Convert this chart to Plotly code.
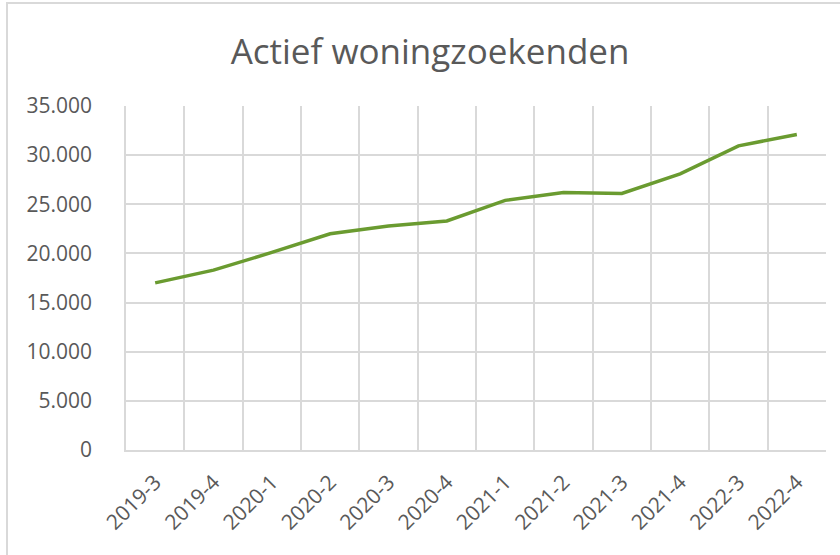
import plotly.graph_objects as go

categories = ["2019-3", "2019-4", "2020-1", "2020-2", "2020-3", "2020-4",
              "2021-1", "2021-2", "2021-3", "2021-4", "2022-3", "2022-4"]
values = [17000, 18300, 20100, 22000, 22800, 23300,
          25400, 26200, 26100, 28100, 30950, 32100]
y_ticks = [0, 5000, 10000, 15000, 20000, 25000, 30000, 35000]

fig = go.Figure()
fig.add_trace(go.Scatter(
    x=categories, y=values, mode="lines",
    line=dict(color="#6a9b30", width=3.5),
    hoverinfo="x+y",
))

grid = "#d9d9d9"
font = "Open Sans, Noto Sans, sans-serif"

fig.update_layout(
    width=840, height=555,
    margin=dict(l=126, r=14, t=106, b=105),
    paper_bgcolor="white", plot_bgcolor="white",
    separators=",.",
    showlegend=False,
    title=dict(text="Actief woningzoekenden", x=0.512, xanchor="center",
               y=1 - 52 / 555, yanchor="middle",
               font=dict(family=font, size=35, color="#595959")),
    xaxis=dict(
        type="category", range=[-0.5, 11.5], tickson="boundaries",
        showgrid=True, gridcolor=grid, gridwidth=1.5,
        showline=True, linecolor=grid, linewidth=1.5,
        ticks="", tickangle=-45, ticklabelstandoff=10,
        tickfont=dict(family=font, size=21, color="#595959"),
    ),
    yaxis=dict(
        range=[0, 35000], tickvals=y_ticks, tickformat=",d",
        showgrid=True, gridcolor=grid, gridwidth=1.5,
        zeroline=False, showline=True, linecolor=grid, linewidth=1.5,
        ticks="", ticklabelstandoff=28,
        tickfont=dict(family=font, size=21, color="#595959"),
    ),
    shapes=[dict(type="rect", xref="paper", yref="paper",
                 x0=(7 - 126) / 700, x1=1.2, y0=-0.5, y1=(450 - 3) / 344,
                 line=dict(color=grid, width=2), layer="below")],
)

fig.write_html("out.html", config={"displayModeBar": False},
               post_script="document.body.style.margin='0';")
